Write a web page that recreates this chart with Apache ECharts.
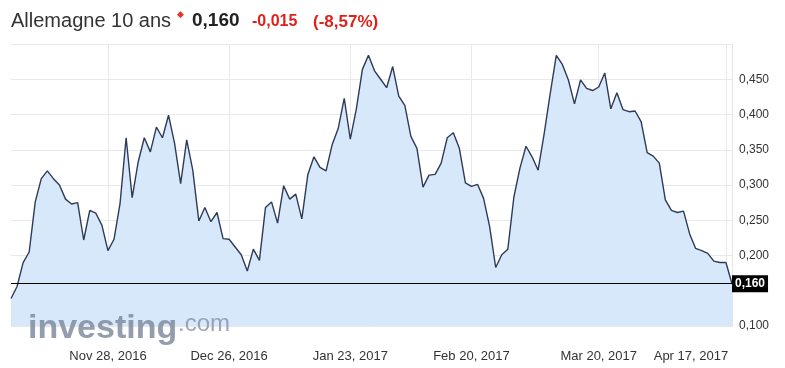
<!DOCTYPE html>
<html>
<head>
<meta charset="utf-8">
<script src="https://cdn.jsdelivr.net/npm/echarts@6/dist/echarts.min.js"></script>
<style>
  html, body { margin: 0; padding: 0; background: #fff; }
  #chart { width: 785px; height: 368px; }
</style>
</head>
<body>
<div id="chart"></div>
<script>
// ---- data ----
const yields = [
  0.139, 0.156, 0.190, 0.205, 0.276, 0.309, 0.320, 0.309, 0.300, 0.280,
  0.273, 0.275, 0.222, 0.264, 0.260, 0.243, 0.207, 0.223, 0.274, 0.367,
  0.282, 0.333, 0.367, 0.347, 0.382, 0.367, 0.399, 0.359, 0.302, 0.364,
  0.321, 0.249, 0.268, 0.248, 0.261, 0.224, 0.223, 0.212, 0.201, 0.178,
  0.209, 0.193, 0.268, 0.276, 0.246, 0.299, 0.280, 0.287, 0.252, 0.315,
  0.340, 0.325, 0.320, 0.357, 0.380, 0.423, 0.365, 0.408, 0.464, 0.484,
  0.462, 0.450, 0.438, 0.468, 0.426, 0.413, 0.369, 0.352, 0.297, 0.314,
  0.315, 0.331, 0.367, 0.374, 0.352, 0.303, 0.298, 0.301, 0.281, 0.241,
  0.183, 0.201, 0.209, 0.283, 0.324, 0.355, 0.340, 0.321, 0.373, 0.430,
  0.484, 0.471, 0.449, 0.415, 0.449, 0.437, 0.434, 0.439, 0.459, 0.408,
  0.431, 0.407, 0.404, 0.405, 0.390, 0.346, 0.341, 0.331, 0.279, 0.264,
  0.261, 0.263, 0.231, 0.210, 0.207, 0.203, 0.192, 0.190, 0.190, 0.160
];
const categories = yields.map((_, i) => i);
const tickIndex = [16, 36, 56, 76, 97, 118];
const tickLabels = ['Nov 28, 2016', 'Dec 26, 2016', 'Jan 23, 2017', 'Feb 20, 2017', 'Mar 20, 2017', 'Apr 17, 2017'];
const lastValue = 0.160;
const titleName = 'Allemagne 10 ans';
const titlePrice = '0,160';
const titleChange = '-0,015';
const titlePct = '(-8,57%)';

const fmt = v => v.toFixed(3).replace('.', ',');

const chart = echarts.init(document.getElementById('chart'), null, { renderer: 'canvas' });
const FONT = 'Liberation Sans, Arial, sans-serif';

chart.setOption({
  animation: false,
  backgroundColor: '#fff',
  grid: { left: 11, right: 53, top: 44, bottom: 42, containLabel: false },
  xAxis: {
    type: 'category',
    data: categories,
    boundaryGap: false,
    axisLine: { show: false },
    axisTick: { show: false },
    splitLine: {
      show: true,
      interval: (i) => tickIndex.includes(i),
      lineStyle: { color: '#e9e9e9', width: 1 }
    },
    axisLabel: {
      interval: (i) => tickIndex.includes(i),
      margin: 24,
      color: '#333',
      fontFamily: FONT,
      fontSize: 13,
      formatter: (v) => {
        const k = tickIndex.indexOf(Number(v));
        if (k < 0) return '';
        if (k === tickIndex.length - 1) return '{shift|' + tickLabels[k] + '}';
        return tickLabels[k];
      },
      rich: {
        shift: { fontSize: 13, color: '#333', fontFamily: FONT, padding: [0, 70, 0, 0] }
      }
    }
  },
  yAxis: {
    type: 'value',
    position: 'right',
    min: 0.10,
    max: 0.50,
    interval: 0.05,
    axisLine: { show: true, lineStyle: { color: '#e6e6e6' } },
    axisTick: { show: false },
    splitLine: { show: true, lineStyle: { color: '#e9e9e9', width: 1 } },
    axisLabel: {
      margin: 7,
      color: '#333',
      fontFamily: FONT,
      fontSize: 12,
      formatter: (v) => {
        if (Math.abs(v - 0.15) < 1e-6 || Math.abs(v - 0.5) < 1e-6) return '';
        return fmt(v);
      }
    }
  },
  series: [{
    type: 'line',
    data: yields,
    symbol: 'none',
    smooth: false,
    lineStyle: { color: '#2e3b58', width: 1.4 },
    areaStyle: { color: '#d6e8fa', opacity: 1 },
    markLine: {
      silent: true,
      symbol: 'none',
      animation: false,
      lineStyle: { color: '#000', type: 'solid', width: 1.2 },
      label: {
        show: true,
        position: 'end',
        distance: 0,
        formatter: () => fmt(lastValue),
        backgroundColor: '#000',
        color: '#fff',
        fontWeight: 'bold',
        fontFamily: FONT,
        fontSize: 12,
        padding: [3, 3, 2, 3]
      },
      data: [{ yAxis: lastValue }]
    }
  }],
  graphic: [
    { type: 'text', x: 11, y: 21, z: 10, style: { text: titleName, font: '20px ' + FONT, fill: '#333', verticalAlign: 'middle' } },
    { type: 'text', x: 177, y: 15, z: 10, style: { text: '\u25C6', font: '9px DejaVu Sans', fill: '#e8332d', verticalAlign: 'middle' } },
    { type: 'text', x: 192, y: 21, z: 10, style: { text: titlePrice, font: 'bold 19px ' + FONT, fill: '#222', verticalAlign: 'middle' } },
    { type: 'text', x: 252, y: 22, z: 10, style: { text: titleChange, font: 'bold 16px ' + FONT, fill: '#e0201b', verticalAlign: 'middle' } },
    { type: 'text', x: 313, y: 22, z: 10, style: { text: titlePct, font: 'bold 17px ' + FONT, fill: '#e0201b', verticalAlign: 'middle' } },
    { type: 'text', x: 28, y: 312, z: 10, style: { text: 'investing', font: 'bold 34px ' + FONT, fill: 'rgba(128,140,160,0.85)', verticalAlign: 'alphabetic' } },
    { type: 'text', x: 178, y: 312, z: 10, style: { text: '.com', font: '24px ' + FONT, fill: 'rgba(140,152,170,0.85)', verticalAlign: 'alphabetic' } }
  ]
});
</script>
</body>
</html>
